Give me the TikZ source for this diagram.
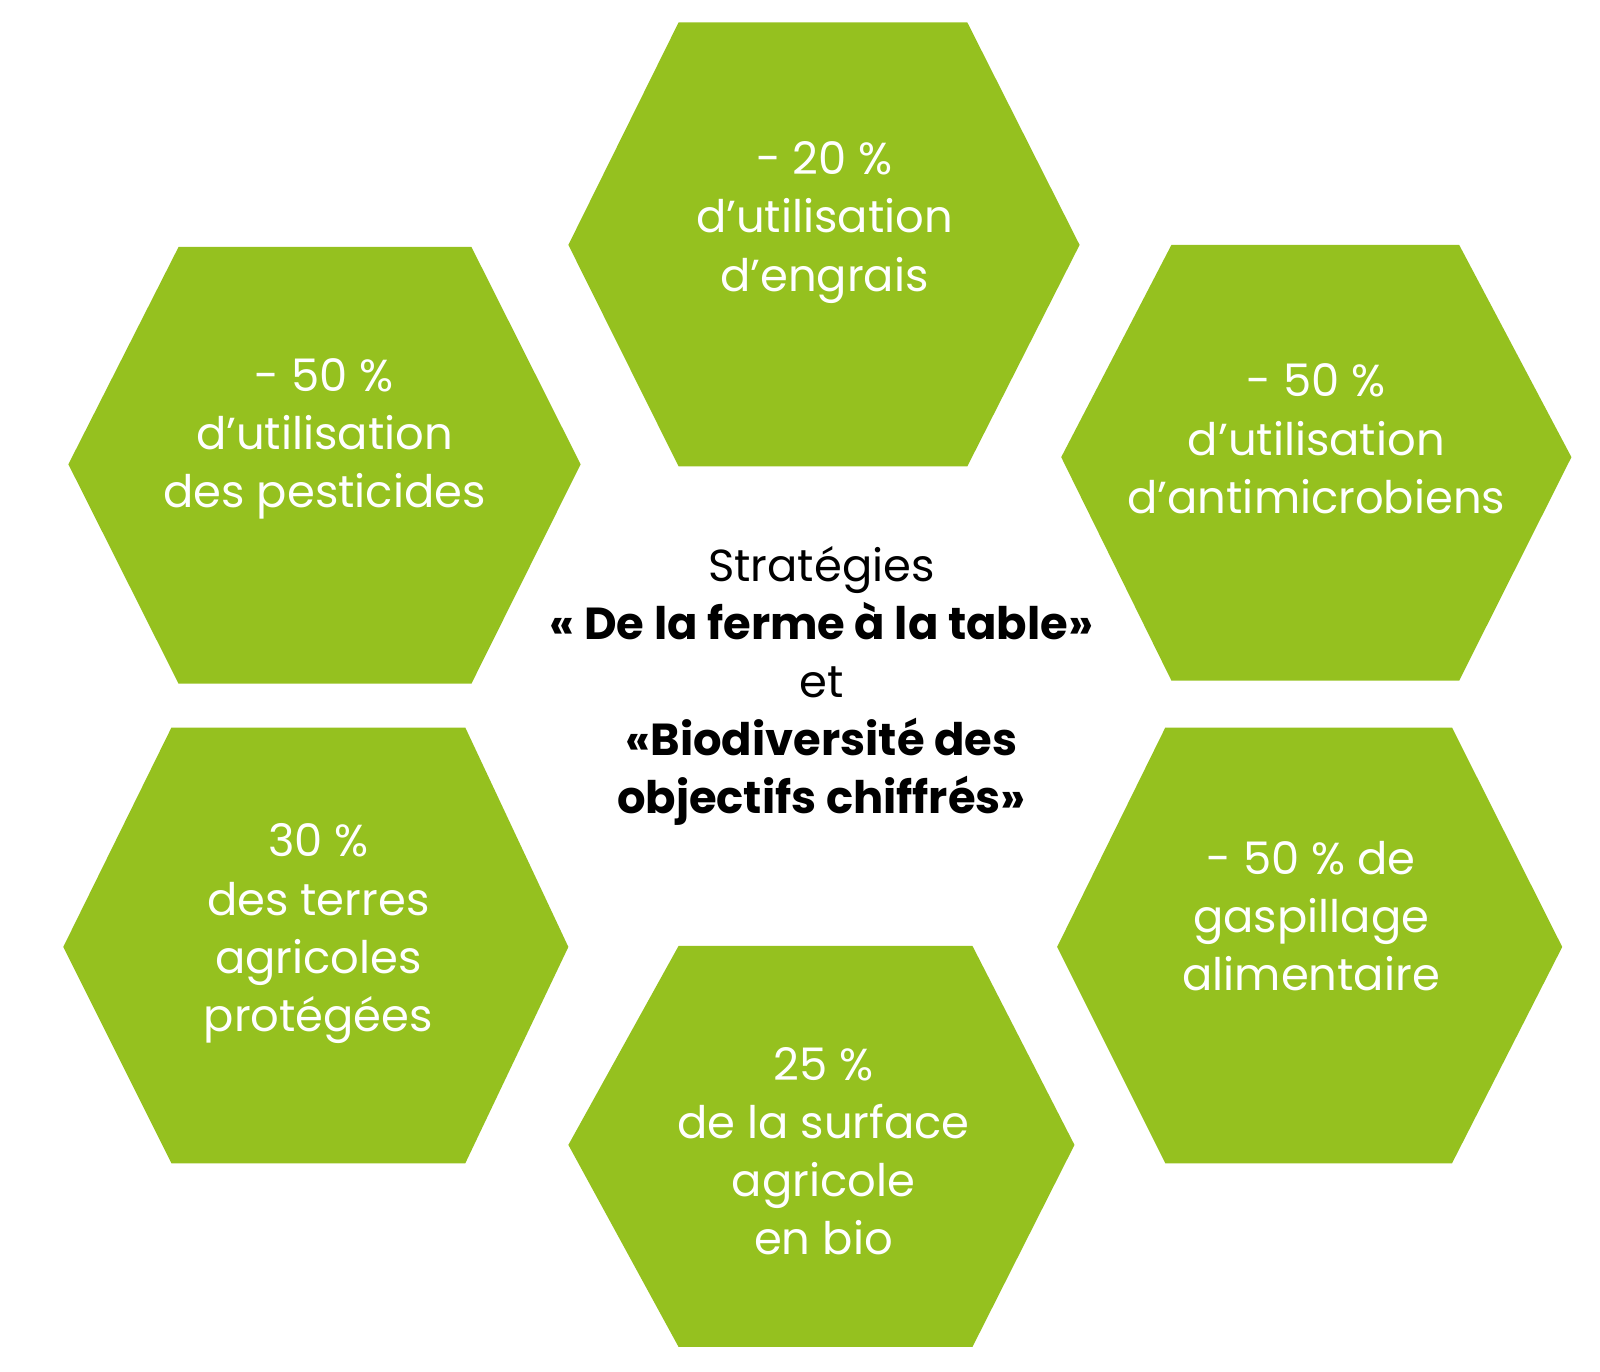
\documentclass[tikz,border=0pt]{standalone}
\usepackage{fontspec}
\setmainfont{Poppins}
\definecolor{leaf}{HTML}{95C11F}
\begin{document}
\begin{tikzpicture}[x=0.01cm,y=-0.01cm,
  hex/.style={fill=leaf,draw=none},
  lbl/.style={text=white,align=center,font=\fontsize{12.5}{16.2}\selectfont},
  ctr/.style={text=black,align=center,font=\fontsize{12.5}{16.2}\selectfont}]
\useasboundingbox (0,0) rectangle (1568,1344);
% hexagons: left vertex, top edge, right vertex, bottom edge
\fill[hex] (557,240) -- (665,22) -- (948,22) -- (1058,240) -- (948,457) -- (665,457) -- cycle;
\fill[hex] (67,455) -- (175,242) -- (462,242) -- (569,455) -- (462,670) -- (175,670) -- cycle;
\fill[hex] (1040,448) -- (1148,240) -- (1430,240) -- (1540,448) -- (1430,667) -- (1148,667) -- cycle;
\fill[hex] (62,928) -- (168,713) -- (456,713) -- (557,928) -- (456,1140) -- (168,1140) -- cycle;
\fill[hex] (1036,928) -- (1142,713) -- (1423,713) -- (1531,928) -- (1423,1140) -- (1142,1140) -- cycle;
\fill[hex] (557,1122) -- (665,927) -- (953,927) -- (1053,1122) -- (953,1320) -- (665,1320) -- cycle;
\node[lbl] (t) at (808,218) {- 20 \%\\d’utilisation\\d’engrais};
\node[lbl] (lu) at (318,430) {- 50 \%\\d’utilisation\\des pesticides};
\node[lbl] (ru) at (1290,430) {- 50 \%\\d’utilisation\\d’antimicrobiens};
\node[lbl] (ll) at (312,915) {30 \%\\des terres\\agricoles\\protégées};
\node[lbl] (rl) at (1285,898) {- 50 \% de\\gaspillage\\alimentaire};
\node[lbl] (b) at (807,1128) {25 \%\\de la surface\\agricole\\en bio};
\node[ctr] (c) at (805,672) {Stratégies\\\textbf{« De la ferme à la table»}\\et\\\textbf{«Biodiversité des}\\\textbf{objectifs chiffrés»}};
\end{tikzpicture}
\end{document}
